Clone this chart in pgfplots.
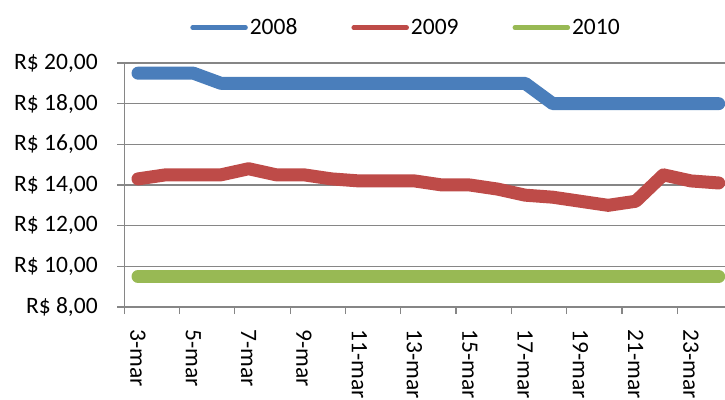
\documentclass[border=0pt]{standalone}
\usepackage{pgfplots}
\pgfplotsset{compat=1.18}
\usepackage{fontspec}
\setmainfont{Carlito}
\definecolor{c08}{RGB}{74,126,187}
\definecolor{c09}{RGB}{190,75,72}
\definecolor{c10}{RGB}{152,185,84}
\definecolor{axgray}{RGB}{134,134,134}
\newcommand{\lblfont}{\fontsize{23.5bp}{28bp}\selectfont}
\begin{document}
\begin{tikzpicture}
\useasboundingbox (-124.2bp,-93bp) rectangle (600.8bp,307bp);
\clip (-124.2bp,-93bp) rectangle (600.8bp,307bp);
\begin{axis}[
  at={(0,0)}, anchor=south west,
  scale only axis,
  width=608.3bp, height=244bp,
  xmin=-0.5, xmax=21.5,
  ymin=8, ymax=20,
  axis lines*=left,
  axis line style={draw=axgray, line width=1.2bp},
  ymajorgrids,
  major grid style={draw=axgray, line width=1.2bp},
  ytick={8,10,...,20},
  yticklabels={{R\$ 8,00},{R\$ 10,00},{R\$ 12,00},{R\$ 14,00},{R\$ 16,00},{R\$ 18,00},{R\$ 20,00}},
  xtick={0,2,...,20},
  xticklabels={3-mar,5-mar,7-mar,9-mar,11-mar,13-mar,15-mar,17-mar,19-mar,21-mar,23-mar},
  minor xtick={-0.5,1.5,...,21.5},
  tick align=outside,
  major tick length=7bp,
  minor tick length=7bp,
  tick style={draw=axgray, line width=1.2bp},
  major x tick style={draw=none},
  every tick label/.append style={font=\lblfont, text=black},
  xticklabel style={rotate=-90, anchor=west},
  xticklabel shift=12bp,
  yticklabel style={anchor=east},
  yticklabel shift=16bp,
  legend columns=3,
  legend style={draw=none, fill=none, font=\lblfont,
    at={(0.4633,1.145)}, anchor=center,
    /tikz/every even column/.append style={column sep=52bp}},
  legend image code/.code={\draw[#1, line width=4.5bp, line cap=round] (0bp,0bp) -- (53bp,0bp);},
  every axis plot/.append style={line width=13bp, line cap=round, line join=round, mark=none},
]
\addplot[c08] coordinates {
(0,19.5)(1,19.5)(2,19.5)(3,19.0)(4,19.0)(5,19.0)(6,19.0)(7,19.0)(8,19.0)(9,19.0)(10,19.0)
(11,19.0)(12,19.0)(13,19.0)(14,19.0)(15,18.0)(16,18.0)(17,18.0)(18,18.0)(19,18.0)(20,18.0)(21,18.0)};
\addlegendentry{2008}
\addplot[c09] coordinates {
(0,14.3)(1,14.5)(2,14.5)(3,14.5)(4,14.8)(5,14.5)(6,14.5)(7,14.3)(8,14.2)(9,14.2)(10,14.2)
(11,14.0)(12,14.0)(13,13.8)(14,13.5)(15,13.4)(16,13.2)(17,13.0)(18,13.2)(19,14.5)(20,14.2)(21,14.1)};
\addlegendentry{2009}
\addplot[c10] coordinates {
(0,9.5)(1,9.5)(2,9.5)(3,9.5)(4,9.5)(5,9.5)(6,9.5)(7,9.5)(8,9.5)(9,9.5)(10,9.5)
(11,9.5)(12,9.5)(13,9.5)(14,9.5)(15,9.5)(16,9.5)(17,9.5)(18,9.5)(19,9.5)(20,9.5)(21,9.5)};
\addlegendentry{2010}
\end{axis}
\end{tikzpicture}
\end{document}
